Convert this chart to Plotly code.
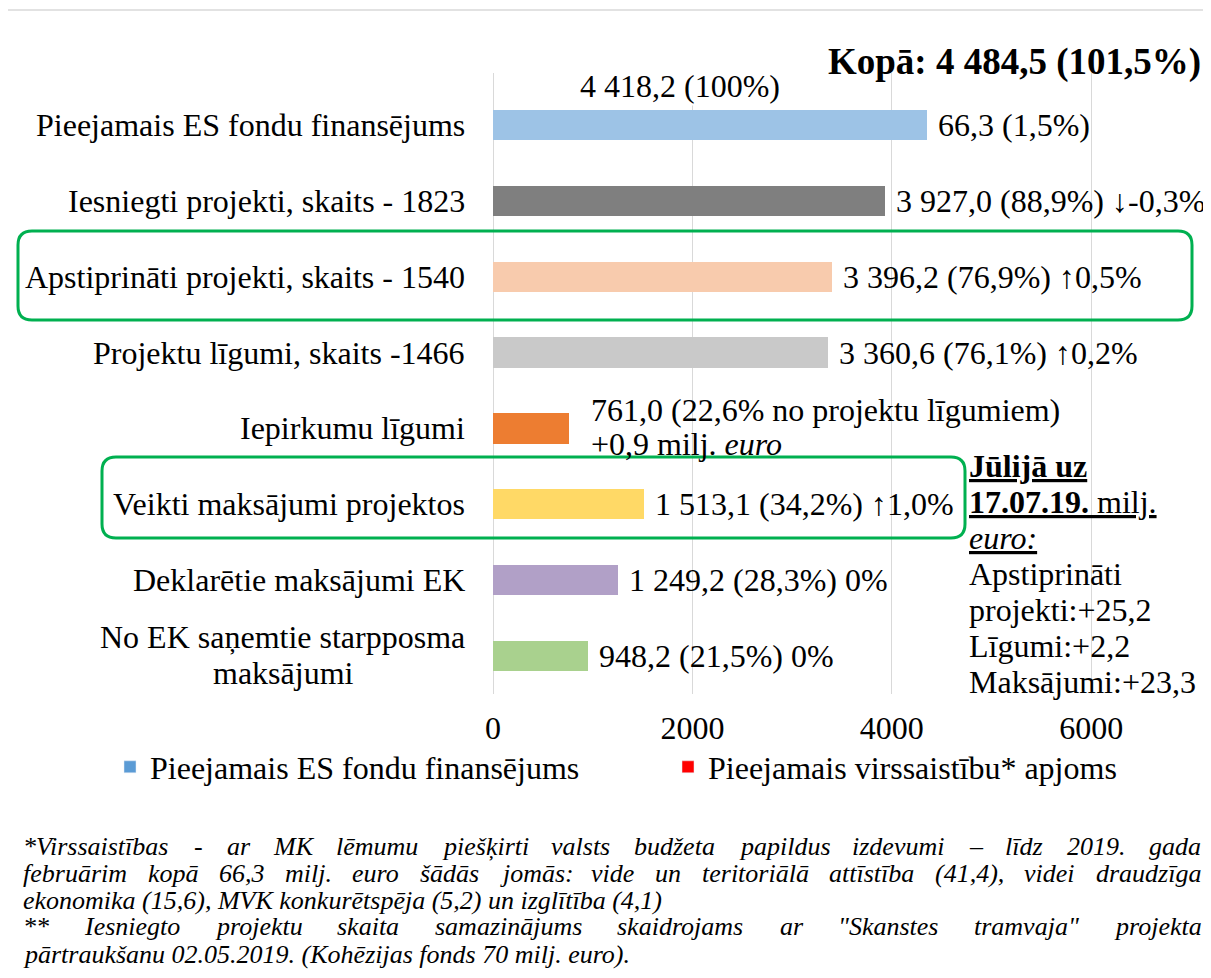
import unicodedata
import plotly.graph_objects as go

categories = [
    "Pieejamais ES fondu finansējums",
    "Iesniegti projekti, skaits - 1823",
    "Apstiprināti projekti, skaits - 1540",
    "Projektu līgumi, skaits -1466",
    "Iepirkumu līgumi",
    "Veikti maksājumi projektos",
    "Deklarētie maksājumi EK",
    "No EK saņemtie starpposma maksājumi",
]
values = [4351.9, 3927.0, 3396.2, 3360.6, 761.0, 1513.1, 1249.2, 948.2]
value_labels = [
    "66,3 (1,5%)",
    "3 927,0 (88,9%) ↓-0,3%",
    "3 396,2 (76,9%) ↑0,5%",
    "3 360,6 (76,1%) ↑0,2%",
    "761,0 (22,6% no projektu līgumiem)|+0,9 milj. <i>euro</i>",
    "1 513,1 (34,2%) ↑1,0%",
    "1 249,2 (28,3%) 0%",
    "948,2 (21,5%) 0%",
]
bar_colors = ["#9DC3E6", "#7F7F7F", "#F8CBAD", "#C9C9C9",
              "#ED7D31", "#FFD966", "#B1A0C7", "#A9D18E"]
legend_names = ["Pieejamais ES fondu finansējums", "Pieejamais virssaistību* apjoms"]
legend_colors = ["#5B9BD5", "#FF0000"]
x_ticks = [0, 2000, 4000, 6000]
total_label = "Kopā: 4 484,5 (101,5%)"
available_label = "4 418,2 (100%)"
side_lines = ["<u><b>Jūlijā uz</b></u>", "<u><b>17.07.19.</b> milj.</u>", "<u><i>euro:</i></u>",
              "Apstiprināti", "projekti:+25,2", "Līgumi:+2,2", "Maksājumi:+23,3"]
foot_lines = [
    ("*Virssaistības - ar MK lēmumu piešķirti valsts budžeta papildus izdevumi – līdz 2019. gada", True),
    ("februārim kopā 66,3 milj. euro šādās jomās: vide un teritoriālā attīstība (41,4), videi draudzīga", True),
    ("ekonomika (15,6), MVK konkurētspēja (5,2) un izglītība (4,1)", False),
    ("** Iesniegto projektu skaita samazinājums skaidrojams ar \"Skanstes tramvaja\" projekta", True),
    ("pārtraukšanu 02.05.2019. (Kohēzijas fonds 70 milj. euro).", False),
]

FONT = "Liberation Serif"
FS = 32
OFF = 8  # page body margin
W, H = 1203, 962
# plot area in reference (page) pixel coords
PL, PR, PT, PB = 493, 1191, 73, 694
ROW = 75.9
L, R, T, B = PL - OFF, W - (PR - OFF), PT - OFF, H - (PB - OFF)
PW, PH = PR - PL, PB - PT


def px(x):
    return (x - PL) / PW


def py(y):
    return (PB - y) / PH


# Times italic advance widths (per 1000 em) for justification of the footnote
TI = {" ": 250, "*": 500, "-": 333, "–": 500, ".": 250, ",": 250, ":": 333, "(": 333, ")": 333,
      '"': 420, "%": 833, "A": 611, "B": 611, "C": 667, "D": 722, "E": 611, "F": 611, "G": 722,
      "H": 722, "I": 333, "J": 444, "K": 667, "L": 556, "M": 833, "N": 667, "O": 722, "P": 611,
      "Q": 722, "R": 611, "S": 500, "T": 556, "U": 722, "V": 611, "W": 833, "X": 611, "Y": 556,
      "Z": 556, "a": 500, "b": 500, "c": 444, "d": 500, "e": 444, "f": 278, "g": 500, "h": 500,
      "i": 278, "j": 278, "k": 444, "l": 278, "m": 722, "n": 500, "o": 500, "p": 500, "q": 500,
      "r": 389, "s": 389, "t": 278, "u": 500, "v": 444, "w": 667, "x": 444, "y": 444, "z": 389}


def ital_w(s, size):
    tot = 0
    for c in s:
        b = unicodedata.normalize("NFD", c)[0]
        tot += TI.get(b, 500)
    return tot * size / 1000


fig = go.Figure()
fig.add_trace(go.Bar(
    y=categories, x=values, orientation="h",
    marker=dict(color=bar_colors, line=dict(width=0)),
    showlegend=False, hoverinfo="skip",
))
for name, col in zip(legend_names, legend_colors):
    fig.add_trace(go.Bar(y=[None], x=[None], orientation="h", name=name,
                         marker=dict(color=col), showlegend=True))

black = "#000"
annotations = []


def ann(**kw):
    base = dict(showarrow=False, font=dict(family=FONT, size=FS, color=black))
    base.update(kw)
    annotations.append(base)


for cat, v, lab in zip(categories, values, value_labels):
    parts = lab.split("|")
    if len(parts) == 1:
        ann(x=v, y=cat, xref="x", yref="y", text=lab, xanchor="left", yanchor="middle", xshift=9)
    else:
        ann(x=v, y=cat, xref="x", yref="y", text=parts[0], xanchor="left", yanchor="middle",
            xshift=20, yshift=18)
        ann(x=v, y=cat, xref="x", yref="y", text=parts[1], xanchor="left", yanchor="middle",
            xshift=20, yshift=-16)
    if cat.startswith("No EK"):
        ann(x=0, y=cat, xref="x", yref="y", text="No EK saņemtie starpposma",
            xanchor="right", yanchor="middle", xshift=-26, yshift=19)
        ann(x=0, y=cat, xref="x", yref="y", text="maksājumi",
            xanchor="center", yanchor="middle", xshift=283 - PL, yshift=-17)
    else:
        ann(x=0, y=cat, xref="x", yref="y", text=cat, xanchor="right", yanchor="middle", xshift=-26)

ann(x=px(680), y=py(86), xref="paper", yref="paper", text=available_label,
    xanchor="center", yanchor="middle", bgcolor="white")
ann(x=px(1203), y=py(62), xref="paper", yref="paper", text="<b>" + total_label + "</b>",
    xanchor="right", yanchor="middle", font=dict(family=FONT, size=37, color=black))
for i, s in enumerate(side_lines):
    ann(x=px(967), y=py(466 + 36 * i), xref="paper", yref="paper", text=s,
        xanchor="left", yanchor="middle", align="left")

FF = 26
XL, XR = 22, 1200
for i, (line, justify) in enumerate(foot_lines):
    yc = py(846 + 27 * i)
    ffont = dict(family=FONT, size=FF, color=black)
    if not justify:
        ann(x=px(XL), y=yc, xref="paper", yref="paper", text="<i>" + line + "</i>",
            xanchor="left", yanchor="middle", font=ffont, borderpad=0)
        continue
    words = line.split(" ")
    widths = [ital_w(w, FF) for w in words]
    gap = (XR - XL - sum(widths)) / (len(words) - 1)
    x = XL
    for w, wd in zip(words, widths):
        ann(x=px(x), y=yc, xref="paper", yref="paper", text="<i>" + w + "</i>",
            xanchor="left", yanchor="middle", font=ffont, borderpad=0)
        x += wd + gap


def rrect(x0, y0, x1, y1, r):
    pts = (f"M {px(x0 + r)},{py(y0)} L {px(x1 - r)},{py(y0)} "
           f"Q {px(x1)},{py(y0)} {px(x1)},{py(y0 + r)} "
           f"L {px(x1)},{py(y1 - r)} Q {px(x1)},{py(y1)} {px(x1 - r)},{py(y1)} "
           f"L {px(x0 + r)},{py(y1)} Q {px(x0)},{py(y1)} {px(x0)},{py(y1 - r)} "
           f"L {px(x0)},{py(y0 + r)} Q {px(x0)},{py(y0)} {px(x0 + r)},{py(y0)} Z")
    return dict(type="path", path=pts, xref="paper", yref="paper",
                line=dict(color="#00B050", width=3), fillcolor="rgba(0,0,0,0)")


shapes = [
    dict(type="rect", xref="paper", yref="paper", x0=px(7), y0=py(10),
         x1=px(1240), y1=py(1000), line=dict(color="#D9D9D9", width=1.5),
         fillcolor="rgba(0,0,0,0)", layer="below"),
    rrect(18, 231, 1192, 320, 14),
    rrect(102, 457, 965, 538, 14),
]

fig.update_layout(
    width=W, height=H,
    margin=dict(l=L, r=R, t=T, b=B, pad=0, autoexpand=False),
    paper_bgcolor="white", plot_bgcolor="white",
    barmode="stack", bargap=0.6,
    font=dict(family=FONT, size=FS, color=black),
    xaxis=dict(range=[0, 7000], tickvals=x_ticks, ticktext=[str(t) for t in x_ticks],
               showgrid=True, gridcolor="#D9D9D9", gridwidth=1,
               zeroline=True, zerolinecolor="#D9D9D9", zerolinewidth=1,
               showline=False, ticks="", ticklen=0, ticklabelstandoff=12,
               tickfont=dict(family=FONT, size=FS, color=black)),
    yaxis=dict(categoryorder="array", categoryarray=categories,
               range=[7.5, -0.5 - (87 - PT) / ROW], showticklabels=False, showgrid=False,
               showline=False, ticks=""),
    legend=dict(orientation="h", xref="paper", yref="paper",
                x=px(110), y=py(767), xanchor="left", yanchor="middle", traceorder="normal",
                font=dict(family=FONT, size=FS, color=black),
                entrywidth=513, entrywidthmode="pixels",
                itemclick=False, bgcolor="rgba(0,0,0,0)"),
    annotations=annotations, shapes=shapes,
)

fig.write_html("out.html")
